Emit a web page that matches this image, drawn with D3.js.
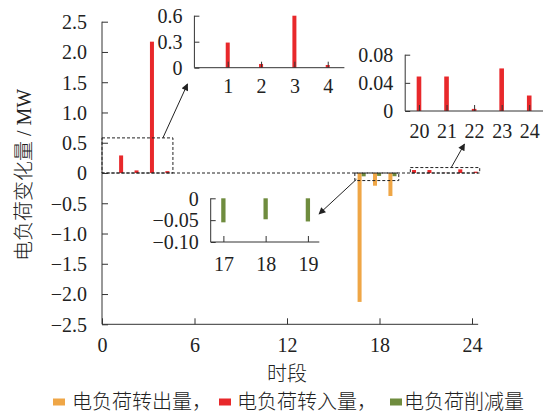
<!DOCTYPE html>
<html>
<head>
<meta charset="utf-8">
<script src="https://cdn.jsdelivr.net/npm/d3@7"></script>
<style>
  html, body { margin: 0; padding: 0; background: #fff; }
  svg { display: block; }
  .num { font-family: "Liberation Serif", "Times New Roman", serif; font-size: 20px; fill: #222; }
  .cn { font-family: "Noto Sans CJK SC", sans-serif; font-weight: 300; fill: #222; }
  .lat { font-family: "Liberation Serif", "Times New Roman", serif; font-weight: 400; }
</style>
</head>
<body>
<svg id="chart" width="547" height="414"></svg>
<script>
// Hourly electric-load changes (MW)
const hours = d3.range(1, 25);
const shiftOut = [0,0,0,0,0,0,0,0,0,0,0,0,0,0,0,0,-2.13,-0.21,-0.38,0,0,0,0,0];
const shiftIn  = [0.29,0.043,2.17,0.031,0,0,0,0,0,0,0,0,0,0,0,0,0,0,0,0.049,0.049,0.003,0.0605,0.022];
const curtail  = [0,0,0,0,0,0,0,0,0,0,0,0,0,0,0,0,-0.055,-0.048,-0.053,0,0,0,0,0];

const seriesNames = ["电负荷转出量", "电负荷转入量", "电负荷削减量"];
const seriesColors = ["#EFA646", "#E8282B", "#6F8C3E"];

const xTicks = [0, 6, 12, 18, 24];
const yTicks = [2.5, 2.0, 1.5, 1.0, 0.5, 0, -0.5, -1.0, -1.5, -2.0, -2.5];

// Zoomed detail panels
const inset1Hours = [1, 2, 3, 4];
const inset1Ticks = [0, 0.3, 0.6];
const inset2Hours = [17, 18, 19];
const inset2Ticks = [0, -0.05, -0.10];
const inset3Hours = [20, 21, 22, 23, 24];
const inset3Ticks = [0, 0.04, 0.08];

const svg = d3.select("#chart");
const axisColor = "#333";
const fmtMinus = s => s.replace("-", "\u2212");

// Main scales
const x = d3.scaleLinear().domain([0, 24]).range([102, 472]);
const y = d3.scaleLinear().domain([-2.5, 2.5]).range([324.3, 21.7]);

// Grouped bars: order inside group is out, curtail, in
const slot = 4.1, barW = 4;
const groupOffset = { 0: -slot, 2: 0, 1: slot };

const mainData = [];
hours.forEach((h, i) => {
  [shiftOut[i], shiftIn[i], curtail[i]].forEach((v, s) => {
    if (v !== 0) mainData.push({ h, v, s });
  });
});

const g = svg.append("g");

g.selectAll("rect.bar").data(mainData).join("rect")
  .attr("class", "bar")
  .attr("x", d => x(d.h) - 0.4 + groupOffset[d.s] - barW / 2)
  .attr("width", barW)
  .attr("y", d => Math.min(y(0), y(d.v)))
  .attr("height", d => Math.abs(y(d.v) - y(0)))
  .attr("fill", d => seriesColors[d.s]);

// Dashed zero line
g.append("line")
  .attr("x1", x(0)).attr("x2", x(24.4))
  .attr("y1", y(0)).attr("y2", y(0))
  .attr("stroke", "#222").attr("stroke-width", 1).attr("stroke-dasharray", "3,2");

// Main y axis
const yAxis = g.append("g").attr("transform", `translate(${x(0)},0)`)
  .call(d3.axisRight(y).tickValues(yTicks).tickSize(6)
    .tickFormat(d => d === 0 ? "0" : fmtMinus(d3.format(".1f")(d))));
yAxis.select(".domain").attr("stroke", axisColor).attr("d", `M0,${y(2.5)}V${y(-2.5)}`);
yAxis.selectAll(".tick line").attr("stroke", axisColor);
yAxis.selectAll(".tick text").attr("class", "num").attr("x", -15).attr("dy", "0.34em")
  .attr("text-anchor", "end").style("font-size", "20px");

// Main x axis
const xAxis = g.append("g").attr("transform", `translate(0,${y(-2.5)})`)
  .call(d3.axisTop(x).tickValues(xTicks).tickSize(6).tickFormat(d3.format("d")));
xAxis.select(".domain").attr("stroke", axisColor).attr("d", `M${x(0)},0H${x(24.4)}`);
xAxis.selectAll(".tick line").attr("stroke", axisColor);
xAxis.selectAll(".tick text").attr("class", "num").attr("y", 20.5).attr("dy", "0.34em")
  .style("font-size", "20px");

// Axis titles
const yTitle = svg.append("text").attr("class", "cn")
  .attr("transform", `translate(24,${(y(2.5) + y(-2.5)) / 2 + 2}) rotate(-90)`)
  .attr("text-anchor", "middle").attr("dy", "0.35em")
  .style("font-size", "20px");
yTitle.append("tspan").text("电负荷变化量");
yTitle.append("tspan").attr("class", "lat").text(" / MW");

svg.append("text").attr("class", "cn")
  .attr("x", (x(0) + x(24)) / 2).attr("y", 374).attr("dy", "0.35em")
  .attr("text-anchor", "middle").style("font-size", "20px")
  .text("时段");

// Dashed boxes marking the zoomed regions (hour, value extents)
const boxes = [
  { h0: 0, h1: 4.6, v0: 0, v1: 0.58 },
  { h0: 16.4, h1: 19.25, v0: -0.125, v1: 0 },
  { h0: 20.0, h1: 24.5, v0: 0, v1: 0.09 }
];
g.selectAll("rect.box").data(boxes).join("rect")
  .attr("class", "box")
  .attr("x", d => x(d.h0)).attr("y", d => y(d.v1))
  .attr("width", d => x(d.h1) - x(d.h0)).attr("height", d => y(d.v0) - y(d.v1))
  .attr("fill", "none").attr("stroke", "#222").attr("stroke-width", 1)
  .attr("stroke-dasharray", "3,2");

// Arrow marker
svg.append("defs").append("marker")
  .attr("id", "arrow").attr("viewBox", "0 0 10 10")
  .attr("refX", 9).attr("refY", 5)
  .attr("markerWidth", 9).attr("markerHeight", 7).attr("markerUnits", "userSpaceOnUse")
  .attr("orient", "auto")
  .append("path").attr("d", "M0,0L10,5L0,10z").attr("fill", "#222");

// Inset drawing helper
function drawInset(opts) {
  const ix = d3.scaleLinear().domain(opts.xDomain).range(opts.xRange);
  const iy = d3.scaleLinear().domain(opts.yDomain).range(opts.yRange);
  const clampV = v => Math.max(opts.yDomain[0], Math.min(opts.yDomain[1], v));
  const ig = svg.append("g");
  const base = iy(clampV(0));
  const vals = opts.hours.map(h => ({ h, v: opts.values[h - 1] }));
  ig.selectAll("rect").data(vals).join("rect")
    .attr("x", d => ix(d.h) - opts.barW / 2)
    .attr("width", opts.barW)
    .attr("y", d => Math.min(base, iy(clampV(d.v))))
    .attr("height", d => Math.abs(iy(clampV(d.v)) - base))
    .attr("fill", opts.color);

  const ya = ig.append("g").attr("transform", `translate(${opts.xRange[0]},0)`)
    .call(d3.axisRight(iy).tickValues(opts.yTicks).tickSize(5).tickFormat(opts.yFormat));
  ya.select(".domain").attr("stroke", axisColor)
    .attr("d", `M0,${opts.yRange[1]}V${opts.yRange[0]}`);
  ya.selectAll(".tick line").attr("stroke", axisColor);
  ya.selectAll(".tick text").attr("class", "num").attr("x", -12).attr("dy", "0.34em")
    .attr("text-anchor", "end").style("font-size", "20px");

  const xa = ig.append("g").attr("transform", `translate(0,${opts.yRange[0]})`)
    .call(d3.axisTop(ix).tickValues(opts.hours).tickSize(6).tickFormat(d3.format("d")));
  xa.select(".domain").attr("stroke", axisColor)
    .attr("d", `M${opts.xRange[0]},0H${opts.xRange[1]}`);
  xa.selectAll(".tick line").attr("stroke", axisColor);
  xa.selectAll(".tick text").attr("class", "num").attr("y", opts.labelGap).attr("dy", "0.34em")
    .style("font-size", "20px");
}

drawInset({
  hours: inset1Hours, values: shiftIn, color: seriesColors[1], barW: 4,
  xDomain: [0, 4.5], xRange: [194.4, 344.4],
  yDomain: [0, 0.6], yRange: [67.7, 15.7],
  yTicks: inset1Ticks, yFormat: d => d === 0 ? "0" : d3.format(".1f")(d), labelGap: 19
});
drawInset({
  hours: inset2Hours, values: curtail, color: seriesColors[2], barW: 4.3,
  xDomain: [16.7, 19.27], xRange: [210.7, 319.3],
  yDomain: [-0.1, 0], yRange: [242, 198.3],
  yTicks: inset2Ticks, yFormat: d => d === 0 ? "0" : fmtMinus(d3.format(".2f")(d)), labelGap: 22
});
drawInset({
  hours: inset3Hours, values: shiftIn, color: seriesColors[1], barW: 4.6,
  xDomain: [19.5, 24.5], xRange: [405.2, 543],
  yDomain: [0, 0.08], yRange: [111, 54.7],
  yTicks: inset3Ticks, yFormat: d => d === 0 ? "0" : d3.format(".2f")(d), labelGap: 20
});

// Arrows from each box to its panel
const arrows = [
  { x1: x(3.95), y1: y(0.58), x2: 187.5, y2: 84 },
  { x1: x(16.5), y1: y(-0.105), x2: 319, y2: 214 },
  { x1: x(22.65), y1: y(0.09), x2: 464.5, y2: 144 }
];
svg.selectAll("line.arrow").data(arrows).join("line")
  .attr("class", "arrow")
  .attr("x1", d => d.x1).attr("y1", d => d.y1)
  .attr("x2", d => d.x2).attr("y2", d => d.y2)
  .attr("stroke", "#222").attr("stroke-width", 1)
  .attr("marker-end", "url(#arrow)");

// Legend
const legendX = [{ sq: 53, tx: 72 }, { sq: 219, tx: 237 }, { sq: 390, tx: 404 }];
const lg = svg.append("g");
seriesNames.forEach((name, i) => {
  lg.append("rect").attr("x", legendX[i].sq).attr("y", 398.5)
    .attr("width", 12).attr("height", 7).attr("fill", seriesColors[i]);
  lg.append("text").attr("class", "cn")
    .attr("x", legendX[i].tx).attr("y", 402).attr("dy", "0.35em")
    .style("font-size", "20px")
    .text(name + (i < 2 ? "，" : ""));
});
</script>
</body>
</html>
